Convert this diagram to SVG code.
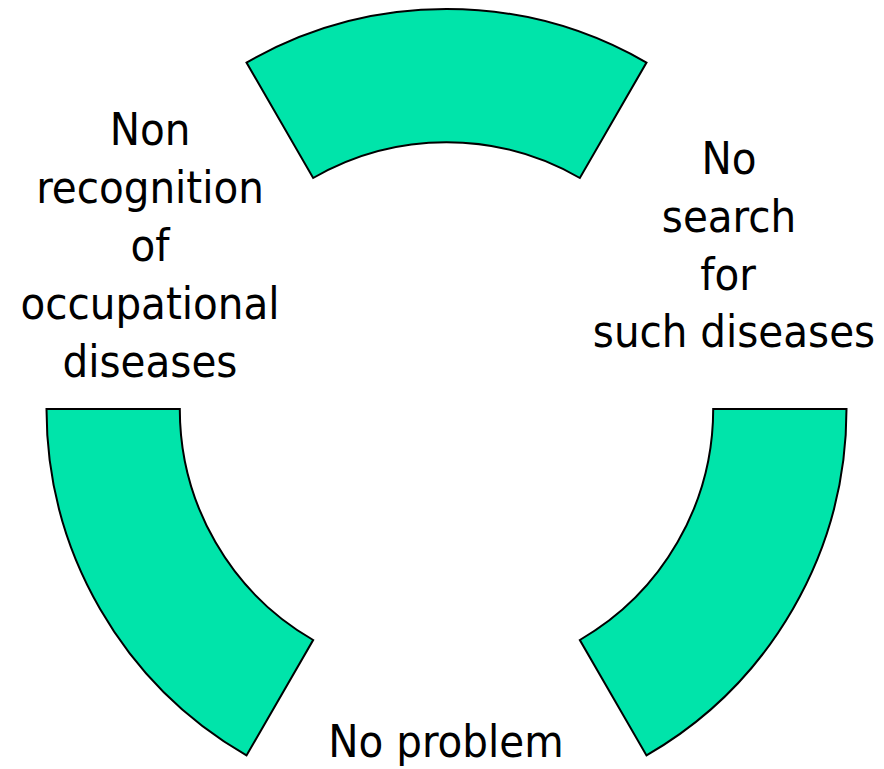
<svg xmlns="http://www.w3.org/2000/svg" width="884" height="769" viewBox="0 0 884 769">
<style>
.seg{fill:#00E4AA;stroke:#000;stroke-width:2;stroke-linejoin:miter}
.lbl{font-family:"DejaVu Sans Condensed","DejaVu Sans",sans-serif;font-stretch:condensed;font-size:45px;fill:#000;text-anchor:middle}
</style>
<rect width="884" height="769" fill="#fff"/>
<g id="segments">
<g id="seg-top"><path class="seg" d="M 246.5 62.6 A 400 400 0 0 1 646.5 62.6 L 579.85 178 A 266.7 266.7 0 0 0 313.15 178 Z"/></g>
<g id="seg-left"><path class="seg" d="M 46.5 409 L 179.8 409 A 266.7 266.7 0 0 0 313.15 640 L 246.5 755.4 A 400 400 0 0 1 46.5 409 Z"/></g>
<g id="seg-right"><path class="seg" d="M 846.5 409 L 713.2 409 A 266.7 266.7 0 0 1 579.85 640 L 646.5 755.4 A 400 400 0 0 0 846.5 409 Z"/></g>
</g>
<g id="label-left">
<text class="lbl" x="150" y="145">Non</text>
<text class="lbl" x="150" y="203">recognition</text>
<text class="lbl" x="150" y="261">of</text>
<text class="lbl" x="150" y="319">occupational</text>
<text class="lbl" x="150" y="377">diseases</text>
</g>
<g id="label-right">
<text class="lbl" x="729" y="174">No</text>
<text class="lbl" x="729" y="232">search</text>
<text class="lbl" x="728" y="290">for</text>
<text class="lbl" x="734" y="347">such diseases</text>
</g>
<g id="label-bottom">
<text class="lbl" x="446" y="757">No problem</text>
</g>
</svg>
